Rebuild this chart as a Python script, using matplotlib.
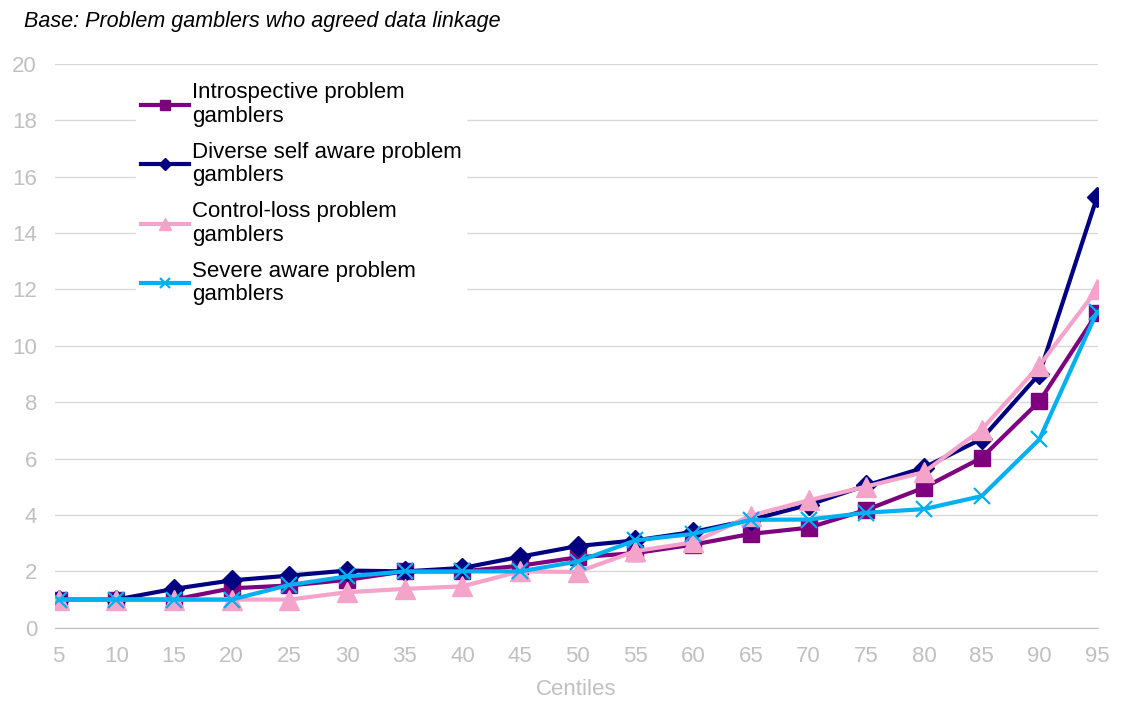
import numpy as np
import matplotlib
matplotlib.use("Agg")
import matplotlib.pyplot as plt

plt.rcParams['font.family'] = ['Liberation Sans', 'DejaVu Sans']

centiles = [5, 10, 15, 20, 25, 30, 35, 40, 45, 50, 55, 60, 65, 70, 75, 80, 85, 90, 95]

introspective = [1.0, 1.0, 1.0, 1.4, 1.5, 1.7, 2.0, 2.0, 2.2, 2.5, 2.65, 2.95, 3.33, 3.55, 4.18, 4.97, 6.03, 8.03, 11.15]
diverse = [1.0, 1.0, 1.38, 1.68, 1.85, 2.03, 2.0, 2.12, 2.52, 2.9, 3.1, 3.4, 3.83, 4.36, 5.05, 5.68, 6.7, 9.0, 15.27]
control_loss = [1.0, 1.0, 1.0, 1.0, 1.0, 1.26, 1.38, 1.47, 2.0, 1.98, 2.72, 3.03, 3.98, 4.52, 5.01, 5.52, 7.03, 9.3, 12.0]
severe = [1.0, 1.0, 1.0, 1.0, 1.52, 1.82, 2.0, 2.0, 2.0, 2.35, 3.1, 3.33, 3.83, 3.84, 4.08, 4.21, 4.67, 6.68, 11.2]

labels = ["Introspective problem\ngamblers",
          "Diverse self aware problem\ngamblers",
          "Control-loss problem\ngamblers",
          "Severe aware problem\ngamblers"]

colors = ["#7F007F", "#000080", "#F4A3CA", "#00B0F0"]


def main():
    fig = plt.figure(figsize=(11.24, 7.03), dpi=100)
    ax = fig.add_axes([0.049, 0.107, 0.928, 0.802])

    ax.plot(centiles, introspective, color=colors[0], lw=3, marker='s',
            markersize=12, label=labels[0])
    ax.plot(centiles, diverse, color=colors[1], lw=3, marker='D',
            markersize=10.5, label=labels[1])
    ax.plot(centiles, control_loss, color=colors[2], lw=3, marker='^',
            markersize=14, label=labels[2])
    ax.plot(centiles, severe, color=colors[3], lw=3, marker='x',
            markersize=12, markeredgewidth=1.6, label=labels[3])

    ax.set_xlim(4.7, 95.1)
    ax.set_ylim(0, 20)
    ax.set_xticks(centiles)
    ax.set_yticks(np.arange(0, 21, 2))

    ax.grid(axis='y', color='#D9D9D9', lw=1)
    ax.set_axisbelow(True)
    for s in ['top', 'right', 'left']:
        ax.spines[s].set_visible(False)
    ax.spines['bottom'].set_color('#BFBFBF')
    ax.tick_params(length=0, labelsize=16, colors='#C0C0C0')
    ax.tick_params(axis='x', pad=13)
    ax.tick_params(axis='y', pad=13)

    ax.set_xlabel('Centiles', fontsize=16, color='#C0C0C0', labelpad=9)

    leg = ax.legend(loc='upper left', bbox_to_anchor=(0.067, 0.995), fontsize=16,
                    frameon=True, facecolor='white', edgecolor='white',
                    framealpha=1, handlelength=2.2, handletextpad=0.1,
                    labelspacing=0.68, markerscale=0.6, borderpad=0.2)
    for t in leg.get_texts():
        t.set_linespacing(1.15)

    fig.text(0.021, 0.97, 'Base: Problem gamblers who agreed data linkage',
             fontsize=15.5, style='italic', ha='left', va='center')

    plt.savefig('out.png', dpi=100)


if __name__ == "__main__":
    main()
